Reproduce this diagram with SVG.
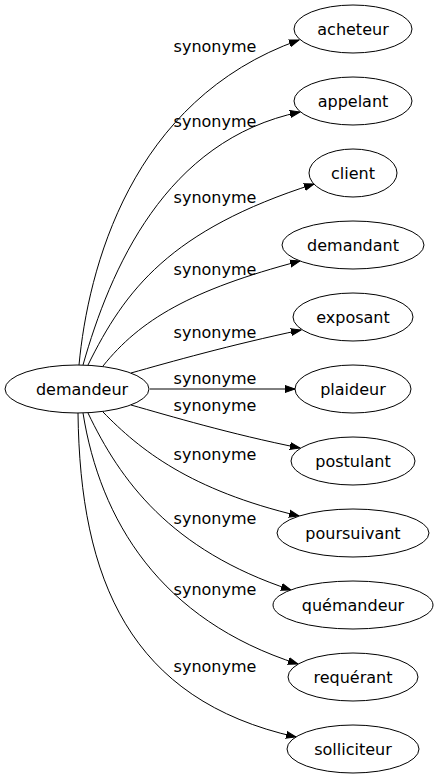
<svg xmlns="http://www.w3.org/2000/svg" width="438" height="779" viewBox="0 0 438 779">
<style>
  .node ellipse { fill: #ffffff; stroke: #000000; stroke-width: 1; }
  .node text, .lbl { font-family: "DejaVu Sans", sans-serif; font-size: 16px; fill: #000000; text-anchor: middle; }
  .edge { fill: none; stroke: #000000; stroke-width: 1; marker-end: url(#arr); }
</style>
<defs>
  <marker id="arr" markerUnits="userSpaceOnUse" markerWidth="12" markerHeight="10" refX="10" refY="5" orient="auto" viewBox="0 0 12 10">
    <polygon points="0,1.5 10,5 0,8.5" fill="#000000" stroke="#000000" stroke-width="1"/>
  </marker>
</defs>
<rect width="438" height="779" fill="#ffffff"/>
<g id="connectors">
  <path class="edge" d="M79,365 C88,270 130,100 299,40"/>
  <path class="edge" d="M83,365 C110,270 165,140 300,112"/>
  <path class="edge" d="M88,365 C125,290 170,230 314,184"/>
  <path class="edge" d="M103,366 C140,320 190,290 300,261"/>
  <path class="edge" d="M131,373 C170,362 230,345 301,330"/>
  <path class="edge" d="M150,389 L295,389"/>
  <path class="edge" d="M131,405 C170,416 230,434 300,448"/>
  <path class="edge" d="M103,412 C140,450 190,490 299,516"/>
  <path class="edge" d="M88,413 C120,480 170,550 291,590"/>
  <path class="edge" d="M83,413 C100,520 160,620 298,664"/>
  <path class="edge" d="M78,413 C80,580 130,700 296,737"/>
  <text class="lbl" x="215" y="52">synonyme</text>
  <text class="lbl" x="215" y="127">synonyme</text>
  <text class="lbl" x="215" y="203">synonyme</text>
  <text class="lbl" x="215" y="275">synonyme</text>
  <text class="lbl" x="215" y="338">synonyme</text>
  <text class="lbl" x="215" y="384">synonyme</text>
  <text class="lbl" x="215" y="411">synonyme</text>
  <text class="lbl" x="215" y="460">synonyme</text>
  <text class="lbl" x="215" y="524">synonyme</text>
  <text class="lbl" x="215" y="595">synonyme</text>
  <text class="lbl" x="215" y="672">synonyme</text>
</g>
<g id="n-demandeur" class="node"><ellipse cx="77" cy="389" rx="72" ry="24"/><text x="82" y="395">demandeur</text></g>
<g id="n-acheteur" class="node"><ellipse cx="353" cy="29" rx="59" ry="24"/><text x="353" y="35">acheteur</text></g>
<g id="n-appelant" class="node"><ellipse cx="353" cy="101" rx="59" ry="24"/><text x="353" y="107">appelant</text></g>
<g id="n-client" class="node"><ellipse cx="353" cy="173" rx="44" ry="24"/><text x="353" y="179">client</text></g>
<g id="n-demandant" class="node"><ellipse cx="353" cy="245" rx="71" ry="24"/><text x="353" y="251">demandant</text></g>
<g id="n-exposant" class="node"><ellipse cx="353" cy="317" rx="60" ry="24"/><text x="353" y="323">exposant</text></g>
<g id="n-plaideur" class="node"><ellipse cx="353" cy="389" rx="58" ry="24"/><text x="353" y="395">plaideur</text></g>
<g id="n-postulant" class="node"><ellipse cx="353" cy="461" rx="62" ry="24"/><text x="353" y="467">postulant</text></g>
<g id="n-poursuivant" class="node"><ellipse cx="353" cy="533" rx="76" ry="24"/><text x="353" y="539">poursuivant</text></g>
<g id="n-quemandeur" class="node"><ellipse cx="353" cy="605" rx="80" ry="24"/><text x="353" y="611">quémandeur</text></g>
<g id="n-requerant" class="node"><ellipse cx="353" cy="677" rx="65" ry="24"/><text x="353" y="683">requérant</text></g>
<g id="n-solliciteur" class="node"><ellipse cx="353" cy="749" rx="66" ry="24"/><text x="353" y="755">solliciteur</text></g>
</svg>
